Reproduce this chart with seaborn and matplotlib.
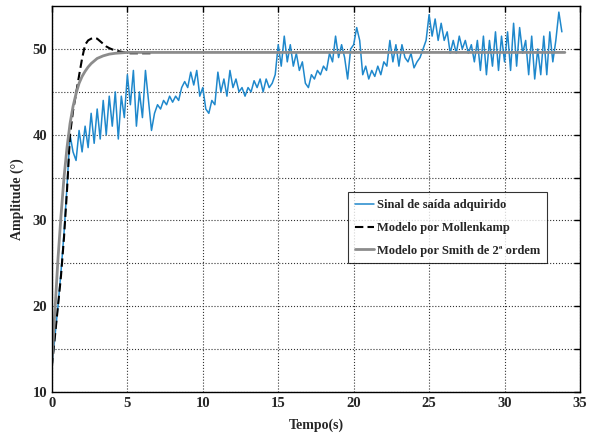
import numpy as np
import pandas as pd
import matplotlib
matplotlib.use("Agg")
import matplotlib.pyplot as plt
import seaborn as sns

# --- dados ---
sinal = [
    13.0, 16.5, 20.0, 24.0, 28.5, 34.0, 40.0, 38.0, 37.0, 40.5,
    38.0, 41.0, 38.5, 42.5, 39.0, 43.0, 39.5, 44.0, 40.0, 44.5,
    41.0, 45.0, 39.5, 44.5, 42.0, 47.0, 43.5, 47.5, 41.0, 45.0,
    42.0, 47.5, 44.0, 40.5, 42.5, 43.5, 43.0, 44.0, 43.5, 44.5,
    43.8, 44.5, 44.0, 45.5, 46.2, 45.5, 47.3, 45.8, 47.5, 44.5,
    45.5, 43.0, 42.5, 44.0, 43.5, 47.3, 45.0, 46.5, 44.5, 47.5,
    45.5, 46.5, 45.0, 45.5, 44.5, 45.5, 45.0, 46.3, 45.5, 46.5,
    45.0, 46.5, 45.5, 46.0, 47.0, 50.5, 48.0, 51.5, 48.5, 50.5,
    48.0, 49.5, 47.5, 48.5, 46.0, 45.5, 47.0, 46.5, 47.5, 47.0,
    48.0, 47.5, 49.5, 48.5, 51.5, 49.0, 50.5, 49.0, 46.5, 50.0,
    50.5, 52.5, 51.0, 47.0, 48.0, 46.5, 47.5, 46.8, 48.0, 47.0,
    48.5, 48.0, 51.0, 48.5, 50.5, 48.0, 50.5, 49.0, 48.5, 49.5,
    47.8, 48.5, 49.0, 50.0, 51.0, 54.0, 51.5, 53.5, 51.0, 53.0,
    51.0, 52.0, 49.5, 51.0, 49.5, 51.5, 50.0, 51.0, 49.5, 50.5,
    48.5, 51.0, 47.5, 51.5, 47.0, 51.0, 48.0, 52.0, 47.5, 51.5,
    48.5, 52.0, 47.5, 53.0, 48.0, 52.5, 49.5, 51.0, 47.0, 51.5,
    46.5, 50.0, 47.0, 51.5, 47.0, 52.0, 48.5, 51.0, 54.3, 52.0,
]
t_sinal = np.round(np.arange(len(sinal)) * 0.2, 1)

t_mollenkamp = [0, 0.2, 0.4, 0.6, 0.8, 1.0, 1.2, 1.4, 1.6, 1.8, 2.0, 2.2, 2.4, 2.6,
                2.8, 3.0, 3.2, 3.4, 3.6, 3.8, 4.0, 4.4, 4.8, 5.2, 5.6, 6.0, 6.8]
y_mollenkamp = [13.0, 16.5, 20.0, 23.5, 28.0, 33.5, 40.0, 42.8, 44.8, 46.9, 48.9, 50.5, 51.0, 51.2,
                51.3, 51.2, 50.9, 50.6, 50.3, 50.1, 49.95, 49.75, 49.6, 49.5, 49.5, 49.5, 49.5]

t_smith = [0, 0.2, 0.4, 0.6, 0.8, 1.0, 1.2, 1.4, 1.6, 1.8, 2.0, 2.2, 2.4, 2.6, 2.8,
           3.0, 3.4, 3.8, 4.2, 4.6, 5.0, 6.0, 34.0]
y_smith = [13.5, 19.5, 25.5, 30.5, 35.0, 38.5, 41.3, 43.3, 44.8, 46.0, 46.8, 47.4, 47.9, 48.3, 48.6,
           48.9, 49.2, 49.4, 49.5, 49.55, 49.6, 49.6, 49.6]

labels = ["Sinal de saída adquirido", "Modelo por Mollenkamp", "Modelo por Smith de 2ª ordem"]

sns.set_style("white")
plt.rcParams['font.family'] = ['Liberation Serif', 'DejaVu Serif']
plt.rcParams['font.weight'] = 'bold'

fig = plt.figure(figsize=(5.9, 4.37), dpi=100)
ax = fig.add_axes([0.088, 0.103, 0.895, 0.883])

sns.lineplot(x=t_sinal, y=sinal, ax=ax, color='#1f88cc', linewidth=1.1, label=labels[0])
sns.lineplot(x=t_mollenkamp, y=y_mollenkamp, ax=ax, color='black', linewidth=1.5,
             linestyle=(0, (4, 2)), label=labels[1])
sns.lineplot(x=t_smith, y=y_smith, ax=ax, color='#8c8c8c', linewidth=2.0, label=labels[2])

ax.set_xlim(0, 35)
ax.set_ylim(10, 55)
ax.set_xticks(np.arange(0, 36, 5))
ax.set_yticks(np.arange(10, 55, 5))
ax.set_yticklabels([str(v) if v % 10 == 0 else '' for v in range(10, 55, 5)])
ax.tick_params(direction='in', length=4, width=1, labelsize=10.5, color='black',
               top=True, right=True)
for lab in ax.get_xticklabels() + ax.get_yticklabels():
    lab.set_fontweight('bold')

ax.grid(True, linestyle=':', color='#333333', linewidth=0.8)
for s in ax.spines.values():
    s.set_color('black')
    s.set_linewidth(1.0)

ax.set_xlabel('Tempo(s)', fontsize=10, fontweight='bold', labelpad=6)
ax.set_ylabel('Amplitude (°)', fontsize=10, fontweight='bold', labelpad=6)

leg = ax.legend(loc='upper right', bbox_to_anchor=(0.937, 0.517), fontsize=9,
                frameon=True, fancybox=False, handlelength=1.5, handletextpad=0.2,
                borderpad=0.55, labelspacing=0.85, borderaxespad=0)
leg.get_frame().set_edgecolor('black')
leg.get_frame().set_linewidth(0.8)
for txt in leg.get_texts():
    txt.set_fontweight('bold')

fig.savefig('out.png', dpi=100)
